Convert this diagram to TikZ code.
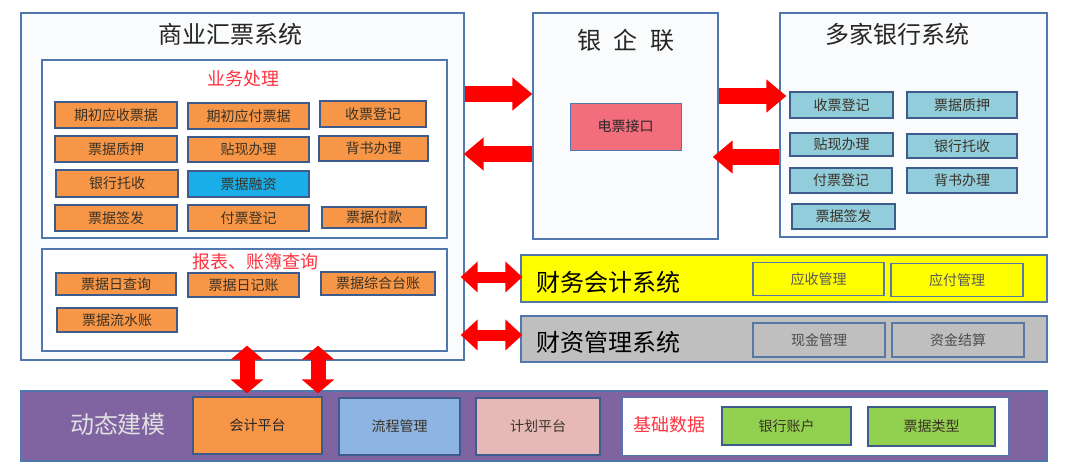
\documentclass[tikz,border=0pt]{standalone}
\usepackage{fontspec}
\setmainfont{Noto Sans CJK SC}
\usetikzlibrary{arrows.meta}
\definecolor{bordblue}{HTML}{5077AE}
\definecolor{subbord}{HTML}{3D5C8C}
\definecolor{orangeF}{HTML}{F79646}
\definecolor{skyF}{HTML}{1AAEE8}
\definecolor{aquaF}{HTML}{92CDDC}
\definecolor{pinkF}{HTML}{F36E7C}
\definecolor{yellowF}{HTML}{FFFF00}
\definecolor{grayF}{HTML}{BFBFBF}
\definecolor{purpleF}{HTML}{8064A2}
\definecolor{lblueF}{HTML}{8DB4E2}
\definecolor{roseF}{HTML}{E6B9B8}
\definecolor{greenF}{HTML}{92D050}
\definecolor{redT}{HTML}{FF3340}
\definecolor{arrowR}{HTML}{FF0000}
\definecolor{subtext}{HTML}{3A3226}
\definecolor{boxbg}{HTML}{FAFBFC}
\begin{document}
\begin{tikzpicture}[x=1pt,y=-1pt,
  wh/.style 2 args={minimum width=#1pt, minimum height=#2pt},
  sysbox/.style={draw=bordblue, line width=1.3pt, fill=boxbg, inner sep=0pt},
  subbox/.style={draw=subbord, line width=1.4pt, inner sep=0pt, text=subtext, font=\fontsize{14}{16}\selectfont},
  obox/.style={subbox, fill=orangeF},
  abox/.style={subbox, fill=aquaF},
  title/.style={inner sep=0pt, text=black!85, font=\fontsize{24}{26}\selectfont},
  redtitle/.style={inner sep=0pt, text=redT, font=\fontsize{18}{20}\selectfont},
  bigarr/.style={draw=arrowR, line width=16pt, -{Triangle[width=32pt,length=20pt]}},
  dblarr/.style={draw=arrowR, line width=11pt, {Triangle[width=30pt,length=17pt]}-{Triangle[width=30pt,length=17pt]}},
  vdbl/.style={draw=arrowR, line width=15pt, {Triangle[width=32pt,length=14pt]}-{Triangle[width=32pt,length=14pt]}}
]
\useasboundingbox (0,0) rectangle (1080,474);
\fill[white] (0,0) rectangle (1080,474);

% ---------- commercial bill system ----------
\node[sysbox, wh={443}{347}] (main) at (242.5,186.5) {};
\node[title] (maint) at (230,34) {商业汇票系统};
\node[sysbox, fill=white, wh={405}{178}] (biz) at (244.5,149) {};
\node[redtitle] (bizt) at (243,79) {业务处理};
\node[obox, wh={122}{26}] (a1) at (116,115) {期初应收票据};
\node[obox, wh={121}{26}] (a2) at (248.5,116) {期初应付票据};
\node[obox, wh={106}{26}] (a3) at (373,114) {收票登记};
\node[obox, wh={122}{26}] (b1) at (116,149) {票据质押};
\node[obox, wh={121}{25}] (b2) at (248.5,149.5) {贴现办理};
\node[obox, wh={109}{25}] (b3) at (373.5,148.5) {背书办理};
\node[obox, wh={122}{27}] (c1) at (117,183.5) {银行托收};
\node[subbox, fill=skyF, wh={121}{26}] (c2) at (248.5,184) {票据融资};
\node[obox, wh={122}{26}] (d1) at (116,218) {票据签发};
\node[obox, wh={121}{26}] (d2) at (248.5,218) {付票登记};
\node[obox, wh={104}{21}] (d3) at (374,217.5) {票据付款};

\node[sysbox, fill=white, wh={405}{102}] (rep) at (244.5,300) {};
\node[redtitle] (rept) at (255,262) {报表、账簿查询};
\node[obox, wh={120}{22}] (e1) at (116,284) {票据日查询};
\node[obox, wh={111}{24}] (e2) at (243.5,285) {票据日记账};
\node[obox, wh={114}{23}] (e3) at (378,283.5) {票据综合台账};
\node[obox, wh={120}{24}] (f1) at (117,320) {票据流水账};

% ---------- bank-enterprise link ----------
\node[sysbox, wh={185}{226}] (yql) at (625.5,126) {};
\node[title] (yqlt) at (626,40) {银\hspace{13pt}企\hspace{13pt}联};
\node[draw=bordblue, line width=1pt, fill=pinkF, inner sep=0pt, wh={111}{47}, font=\fontsize{14}{16}\selectfont, text=black!85] (dp) at (625.5,126.5) {电票接口};

% ---------- banks ----------
\node[sysbox, wh={267}{224}] (bank) at (913.5,125) {};
\node[title] (bankt) at (897,34) {多家银行系统};
\node[abox, wh={103}{26}] (g1) at (841.5,105) {收票登记};
\node[abox, wh={110}{26}] (g2) at (962,105) {票据质押};
\node[abox, wh={103}{23}] (h1) at (841.5,144.5) {贴现办理};
\node[abox, wh={110}{24}] (h2) at (962,146) {银行托收};
\node[abox, wh={102}{25}] (i1) at (841,180.5) {付票登记};
\node[abox, wh={110}{25}] (i2) at (962,180.5) {背书办理};
\node[abox, wh={103}{25}] (j1) at (843.5,216.5) {票据签发};

% ---------- accounting / treasury ----------
\node[draw=bordblue, line width=1.3pt, fill=yellowF, inner sep=0pt, wh={526}{47}] (yel) at (784,278.5) {};
\node[title, anchor=west, text=black] (yelt) at (536,282) {财务会计系统};
\node[subbox, draw=bordblue!80!gray, fill=yellowF, text=black!65, wh={131}{33}] (k1) at (818.5,279) {应收管理};
\node[subbox, draw=bordblue!80!gray, fill=yellowF, text=black!65, wh={132}{33}] (k2) at (957,280) {应付管理};

\node[draw=bordblue, line width=1.3pt, fill=grayF, inner sep=0pt, wh={526}{46}] (gry) at (784,339) {};
\node[title, anchor=west, text=black] (gryt) at (536,342) {财资管理系统};
\node[subbox, draw=bordblue!80!gray, fill=grayF, text=black!70, wh={132}{34}] (l1) at (819,340) {现金管理};
\node[subbox, draw=bordblue!80!gray, fill=grayF, text=black!70, wh={132}{34}] (l2) at (958,340) {资金结算};

% ---------- dynamic modelling bar ----------
\node[draw=bordblue, line width=1.3pt, fill=purpleF, inner sep=0pt, wh={1026}{70}] (pur) at (534,426) {};
\node[title, text=white!88!black] (purt) at (118,424) {动态建模};
\node[subbox, fill=orangeF, text=black!85, wh={129}{57}] (m1) at (257.5,425.5) {会计平台};
\node[subbox, fill=lblueF, wh={121}{57}] (m2) at (399.5,426.5) {流程管理};
\node[subbox, fill=roseF, wh={124}{57}] (m3) at (538,426.5) {计划平台};
\node[draw=bordblue, line width=1pt, fill=white, inner sep=0pt, wh={386}{58}] (base) at (815,426) {};
\node[redtitle] (baset) at (669,425) {基础数据};
\node[subbox, fill=greenF, wh={129}{38}] (n1) at (786.5,426) {银行账户};
\node[subbox, fill=greenF, wh={127}{39}] (n2) at (931.5,426.5) {票据类型};

% ---------- arrows ----------
\draw[bigarr] (main.east |- 0,94) -- (yql.west |- 0,94);
\draw[bigarr, shorten >=-1pt] (yql.west |- 0,154) -- (main.east |- 0,154);
\draw[bigarr, shorten >=-7pt] (yql.east |- 0,96) -- (bank.west |- 0,96);
\draw[bigarr, shorten >=-6pt] (bank.west |- 0,157) -- (yql.east |- 0,157);
\draw[dblarr, shorten <=-4pt, shorten >=-2pt] (main.east |- 0,277) -- (yel.west |- 0,277);
\draw[dblarr, shorten <=-4pt, shorten >=-2pt] (main.east |- 0,335) -- (gry.west |- 0,335);
\draw[vdbl, shorten <=-15pt, shorten >=-3pt] (main.south -| 247,0) -- (pur.north -| 247,0);
\draw[vdbl, shorten <=-15pt, shorten >=-3pt] (main.south -| 318,0) -- (pur.north -| 318,0);
\end{tikzpicture}
\end{document}
